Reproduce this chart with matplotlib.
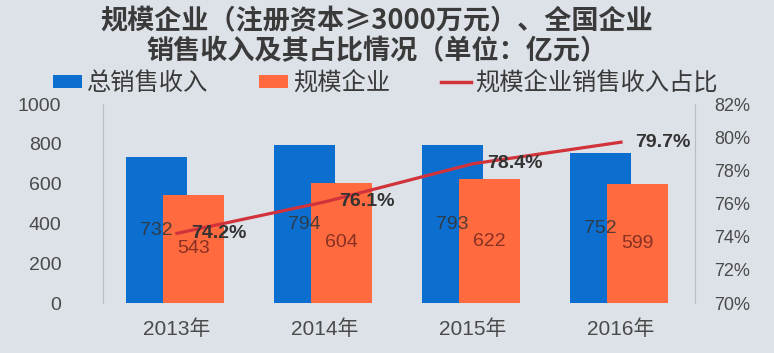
import matplotlib
matplotlib.use("Agg")
import matplotlib.pyplot as plt
from matplotlib.patches import Patch
from matplotlib.lines import Line2D

categories = ["2013年", "2014年", "2015年", "2016年"]
total_sales = [732, 794, 793, 752]
scale_sales = [543, 604, 622, 599]
share_pct = [74.2, 76.1, 78.4, 79.7]
left_ticks = [0, 200, 400, 600, 800, 1000]
right_ticks = [70, 72, 74, 76, 78, 80, 82]

title_lines = ["规模企业（注册资本≥3000万元）、全国企业", "销售收入及其占比情况（单位：亿元）"]
legend_labels = ["总销售收入", "规模企业", "规模企业销售收入占比"]

FONT = ["Liberation Sans", "Noto Sans CJK SC", "DejaVu Sans"]
plt.rcParams["font.family"] = FONT

BG = "#dde2e8"
BLUE = "#0c6fcf"
ORANGE = "#ff6b3f"
RED = "#d2323a"
TXT = "#4a4a4a"

fig = plt.figure(figsize=(7.74, 3.53), dpi=100, facecolor=BG)
ax = fig.add_axes([0.133, 0.1416, 0.765, 0.5637], facecolor=BG)

x = list(range(len(categories)))
w = 0.41
xb = [i - 0.14 for i in x]
xo = [i + 0.11 for i in x]
ax.bar(xb, total_sales, width=w, color=BLUE, zorder=2)
ax.bar(xo, scale_sales, width=w, color=ORANGE, zorder=3)

for xi, v in zip(xb, total_sales):
    ax.text(xi, v / 2, str(v), ha="center", va="center", fontsize=14,
            color="#333333", alpha=0.85, zorder=5)
for xi, v in zip(xo, scale_sales):
    ax.text(xi, v / 2, str(v), ha="center", va="center", fontsize=14,
            color="#7a2a20", alpha=0.9, zorder=5)

ax.set_xlim(-0.5, len(categories) - 0.5)
ax.set_ylim(0, 1000)
ax.set_yticks(left_ticks)
ax.set_xticks(x)
ax.set_xticklabels(categories, fontsize=15, color=TXT, family=["Liberation Sans", "Noto Sans CJK SC"])
ax.tick_params(axis="y", labelsize=14, colors=TXT, length=0, pad=30)
ax.tick_params(axis="x", length=0, pad=12)
for s in ["top", "bottom"]:
    ax.spines[s].set_visible(False)
for s in ["left", "right"]:
    ax.spines[s].set_color("#b8bdc4")
    ax.spines[s].set_linewidth(0.8)

ax2 = ax.twinx()
ax2.set_ylim(70, 82)
ax2.set_yticks(right_ticks)
ax2.set_yticklabels([f"{t}%" for t in right_ticks])
ax2.tick_params(axis="y", labelsize=13, colors=TXT, length=0, pad=14)
for s in ["top", "bottom", "left", "right"]:
    ax2.spines[s].set_visible(False)
ax2.plot(x, share_pct, color=RED, linewidth=2.3, zorder=6)
for xi, p in zip(x, share_pct):
    ax2.annotate(f"{p}%", (xi, p), xytext=(10, 0), textcoords="offset points",
                 ha="left", va="center", fontsize=14, fontweight="bold",
                 color="#333333", zorder=7)

for line, yy in zip(title_lines, [0.940, 0.855]):
    fig.text(0.487, yy, line, ha="center", va="center", fontsize=19.5,
             fontweight="bold", color="#3a3a3a",
             family=["Noto Sans CJK SC", "DejaVu Sans"])

handles = [Patch(facecolor=BLUE), Patch(facecolor=ORANGE),
           Line2D([0], [0], color=RED, linewidth=2.5)]
leg = fig.legend(handles, legend_labels, loc="center", bbox_to_anchor=(0.498, 0.765),
                 ncol=3, frameon=False, handlelength=1.2,
                 handleheight=0.45, handletextpad=0.2, columnspacing=2.1,
                 prop={"family": ["Noto Sans CJK SC"], "size": 17.5})
for t in leg.get_texts():
    t.set_color("#3a3a3a")

fig.savefig("out.png", dpi=100, facecolor=BG)
